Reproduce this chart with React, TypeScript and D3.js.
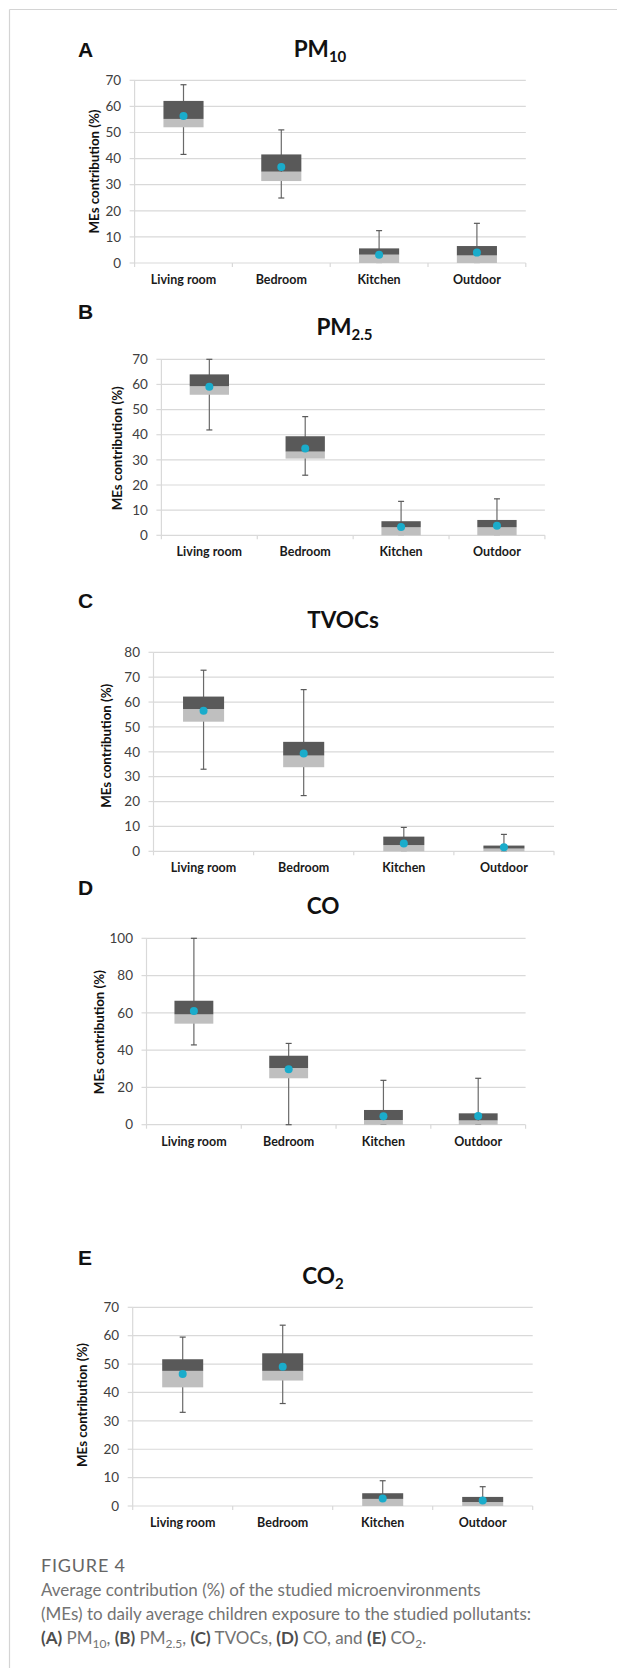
import React from "react";
import * as d3 from "d3";

// microenvironments, same for every panel
const categories = ["Living room", "Bedroom", "Kitchen", "Outdoor"];

// tick labels
const ticks70 = [0, 10, 20, 30, 40, 50, 60, 70];
const ticks80 = [0, 10, 20, 30, 40, 50, 60, 70, 80];
const ticks100 = [0, 20, 40, 60, 80, 100];

// A - PM10
const pm10Low = [41.6, 24.9, 0.2, 0.2];
const pm10Q1 = [52.0, 31.4, 0, 0];
const pm10Median = [55.2, 35.0, 3.2, 2.9];
const pm10Q3 = [62.1, 41.6, 5.6, 6.5];
const pm10High = [68.3, 51.0, 12.4, 15.2];
const pm10Mean = [56.3, 36.8, 3.2, 4.0];

// B - PM2.5
const pm25Low = [41.9, 23.9, 0.3, 0.3];
const pm25Q1 = [55.9, 30.5, 0, 0];
const pm25Median = [59.3, 33.3, 3.2, 3.2];
const pm25Q3 = [64.0, 39.4, 5.6, 6.1];
const pm25High = [70.0, 47.2, 13.5, 14.5];
const pm25Mean = [59.1, 34.5, 3.3, 3.8];

// C - TVOCs
const tvocLow = [33.0, 22.4, 0.3, 0.2];
const tvocQ1 = [52.1, 33.8, 0, 0];
const tvocMedian = [57.2, 38.5, 2.5, 1.1];
const tvocQ3 = [62.2, 44.0, 5.9, 2.3];
const tvocHigh = [72.8, 65.0, 9.6, 6.8];
const tvocMean = [56.5, 39.3, 3.1, 1.6];

// D - CO
const coLow = [42.8, 0, 0.2, 0.2];
const coQ1 = [54.2, 24.9, 0, 0];
const coMedian = [59.2, 30.4, 2.5, 2.3];
const coQ3 = [66.5, 37.0, 7.9, 6.1];
const coHigh = [100, 43.6, 23.8, 24.9];
const coMean = [61.0, 29.7, 4.5, 4.7];

// E - CO2
const co2Low = [33.0, 36.1, 0.3, 0.2];
const co2Q1 = [41.8, 44.2, 0, 0];
const co2Median = [47.6, 47.6, 2.5, 1.4];
const co2Q3 = [51.7, 53.8, 4.5, 3.2];
const co2High = [59.5, 63.7, 8.9, 6.8];
const co2Mean = [46.5, 49.1, 2.6, 1.9];

const FONT = "Lato, 'Open Sans', sans-serif";
const DARK = "#595959";
const LIGHT = "#bfbfbf";
const DOT = "#1aaccb";
const GRID = "#d9d9d9";

const panels = [
  {
    letter: "A", title: "PM", sub: "10", ticks: ticks70,
    low: pm10Low, q1: pm10Q1, med: pm10Median, q3: pm10Q3, high: pm10High, mean: pm10Mean,
    x0: 134.6, x1: 525.8, yTop: 80.3, yBot: 263,
    letterY: 57.3, titleX: 320, titleY: 56.7, labelX: 94.5, labelY: 171.5,
  },
  {
    letter: "B", title: "PM", sub: "2.5", ticks: ticks70,
    low: pm25Low, q1: pm25Q1, med: pm25Median, q3: pm25Q3, high: pm25High, mean: pm25Mean,
    x0: 161.4, x1: 544.9, yTop: 359.3, yBot: 535.3,
    letterY: 319.3, titleX: 344.5, titleY: 335, labelX: 117, labelY: 448.3,
  },
  {
    letter: "C", title: "TVOCs", sub: "", ticks: ticks80,
    low: tvocLow, q1: tvocQ1, med: tvocMedian, q3: tvocQ3, high: tvocHigh, mean: tvocMean,
    x0: 153.5, x1: 554, yTop: 652.3, yBot: 851.3,
    letterY: 608.3, titleX: 343, titleY: 628.3, labelX: 106.3, labelY: 745.8,
  },
  {
    letter: "D", title: "CO", sub: "", ticks: ticks100,
    low: coLow, q1: coQ1, med: coMedian, q3: coQ3, high: coHigh, mean: coMean,
    x0: 146.5, x1: 525.6, yTop: 938.3, yBot: 1124.7,
    letterY: 895, titleX: 323, titleY: 914, labelX: 99.2, labelY: 1032.2,
  },
  {
    letter: "E", title: "CO", sub: "2", ticks: ticks70,
    low: co2Low, q1: co2Q1, med: co2Median, q3: co2Q3, high: co2High, mean: co2Mean,
    x0: 132.7, x1: 532.7, yTop: 1307.3, yBot: 1506,
    letterY: 1265, titleX: 323, titleY: 1284, labelX: 82.7, labelY: 1405,
  },
];

function BoxPanel({ p }: { p: any }) {
  const x = d3
    .scaleBand()
    .domain(categories)
    .range([p.x0, p.x1])
    .paddingInner(0.59)
    .paddingOuter(0.295);
  const y = d3
    .scaleLinear()
    .domain([0, p.ticks[p.ticks.length - 1]])
    .range([p.yBot, p.yTop]);
  const bw = x.bandwidth();
  const step = x.step();

  return (
    <g>
      <text x={78} y={p.letterY} fontFamily="'Liberation Sans', Arial, sans-serif" fontWeight="bold" fontSize={21} fill="#111">
        {p.letter}
      </text>
      <text x={p.titleX} y={p.titleY} textAnchor="middle" fontFamily={FONT} fontWeight="bold" fontSize={22.5} fill="#111">
        {p.title}
        {p.sub ? (
          <tspan fontSize={15} dy={5}>{p.sub}</tspan>
        ) : null}
      </text>

      {/* grid */}
      {p.ticks.filter((t: number) => t > 0).map((t: number) => (
        <line key={"g" + t} x1={p.x0} x2={p.x1} y1={y(t)} y2={y(t)} stroke={GRID} strokeWidth={1.2} />
      ))}
      {/* y axis */}
      <line x1={p.x0} x2={p.x0} y1={p.yTop} y2={p.yBot} stroke={GRID} strokeWidth={1.2} />
      {p.ticks.map((t: number) => (
        <g key={"t" + t}>
          <line x1={p.x0 - 5} x2={p.x0} y1={y(t)} y2={y(t)} stroke={GRID} strokeWidth={1.2} />
          <text x={p.x0 - 13.5} y={y(t)} dy="0.35em" textAnchor="end" fontFamily={FONT} fontSize={13.5} fill="#404040">
            {t}
          </text>
        </g>
      ))}
      {/* x axis */}
      <line x1={p.x0} x2={p.x1} y1={p.yBot} y2={p.yBot} stroke={GRID} strokeWidth={1.2} />
      {d3.range(categories.length + 1).map((i) => (
        <line key={"xt" + i} x1={p.x0 + i * step} x2={p.x0 + i * step} y1={p.yBot} y2={p.yBot + 4} stroke={GRID} strokeWidth={1.2} />
      ))}
      {categories.map((c) => (
        <text key={"c" + c} x={(x(c) as number) + bw / 2} y={p.yBot + 21} textAnchor="middle" fontFamily={FONT} fontWeight="bold" fontSize={12.5} fill="#1a1a1a">
          {c}
        </text>
      ))}
      <text
        transform={`translate(${p.labelX},${p.labelY}) rotate(-90)`}
        textAnchor="middle"
        dy="0.35em"
        fontFamily={FONT}
        fontWeight="bold"
        fontSize={13.3}
        fill="#111"
      >
        MEs contribution (%)
      </text>

      {/* boxes */}
      {categories.map((c, i) => {
        const cx = (x(c) as number) + bw / 2;
        return (
          <g key={"b" + c}>
            <line x1={cx} x2={cx} y1={y(p.low[i])} y2={y(p.high[i])} stroke="#6a6a6a" strokeWidth={1.2} />
            <line x1={cx - 3} x2={cx + 3} y1={y(p.low[i])} y2={y(p.low[i])} stroke={DARK} strokeWidth={1.2} />
            <line x1={cx - 3} x2={cx + 3} y1={y(p.high[i])} y2={y(p.high[i])} stroke={DARK} strokeWidth={1.2} />
            <rect x={x(c)} width={bw} y={y(p.med[i])} height={y(p.q1[i]) - y(p.med[i])} fill={LIGHT} />
            <rect x={x(c)} width={bw} y={y(p.q3[i])} height={y(p.med[i]) - y(p.q3[i])} fill={DARK} />
            <circle cx={cx} cy={y(p.mean[i])} r={4} fill={DOT} />
          </g>
        );
      })}
    </g>
  );
}

export default function App() {
  const capGray = "#737373";
  const capBold = "#4d4d4d";
  return (
    <svg
      width={617}
      height={1668}
      style={{ position: "absolute", left: 0, top: 0, background: "#fff" }}
    >
      <rect width={617} height={1668} fill="#fff" />
      <line x1={9.5} x2={617} y1={9.5} y2={9.5} stroke="#d4d4d4" strokeWidth={1.2} />
      <line x1={9.5} x2={9.5} y1={9.5} y2={1668} stroke="#d4d4d4" strokeWidth={1.2} />

      {panels.map((p) => (
        <BoxPanel key={p.letter} p={p} />
      ))}

      <g fontFamily={FONT} fontSize={17} fill={capGray}>
        <text x={41} y={1571.7} fontSize={18} letterSpacing={0.8} fill="#666">
          FIGURE 4
        </text>
        <text x={41} y={1596}>
          Average contribution (%) of the studied microenvironments
        </text>
        <text x={41} y={1620}>
          (MEs) to daily average children exposure to the studied pollutants:
        </text>
        <text x={41} y={1644}>
          <tspan fontWeight="bold" fill={capBold}>(A)</tspan>
          <tspan> PM</tspan>
          <tspan fontSize={12} dy={4}>10</tspan>
          <tspan dy={-4}>, </tspan>
          <tspan fontWeight="bold" fill={capBold}>(B)</tspan>
          <tspan> PM</tspan>
          <tspan fontSize={12} dy={4}>2.5</tspan>
          <tspan dy={-4}>, </tspan>
          <tspan fontWeight="bold" fill={capBold}>(C)</tspan>
          <tspan> TVOCs, </tspan>
          <tspan fontWeight="bold" fill={capBold}>(D)</tspan>
          <tspan> CO, and </tspan>
          <tspan fontWeight="bold" fill={capBold}>(E)</tspan>
          <tspan> CO</tspan>
          <tspan fontSize={12} dy={4}>2</tspan>
          <tspan dy={-4}>.</tspan>
        </text>
      </g>
    </svg>
  );
}
